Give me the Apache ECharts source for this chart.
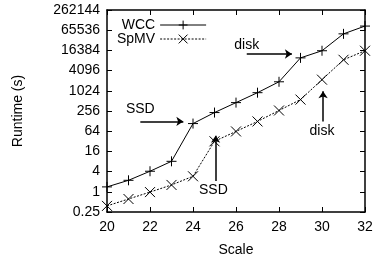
<!DOCTYPE html>
<html lang="en">
	<head>
		<meta charset="UTF-8"/>
		<title></title>
		<script src="https://cdn.jsdelivr.net/npm/echarts@6/dist/echarts.min.js"></script>
		<style>html,body{margin:0;padding:0;background:#fff;}</style>
	</head>
	<body>
		<div id="main" style="width: 378px;height: 262px;"></div>
		<script type="text/javascript">
			// chart data
			var scales = [20, 21, 22, 23, 24, 25, 26, 27, 28, 29, 30, 31, 32];
			var wccRuntime = [1.4, 2.2, 4.1, 8.1, 108, 230, 455, 900, 1900, 9800, 16000, 51000, 87000];
			var spmvRuntime = [0.38, 0.61, 0.98, 1.6, 2.9, 32, 63, 125, 265, 560, 2200, 8600, 16000];
			var yTickLabels = ['0.25', '1', '4', '16', '64', '256', '1024', '4096', '16384', '65536', '262144'];

			// annotations: [text, textX, textY, arrowFrom, arrowTo]
			var notes = [
				['SSD', 21.55, 290, [21.55, 125], [23.55, 125]],
				['SSD', 24.95, 1.12, [25.05, 2.1], [25.05, 47]],
				['disk', 26.5, 24000, [26.5, 12800], [28.6, 12800]],
				['disk', 30.0, 63, [30.05, 125], [30.05, 1000]]
			];

			var font = 'Liberation Sans, Arial, sans-serif';
			var myChart = echarts.init(document.getElementById('main'));

			var pairs = function (ys) {
				return scales.map(function (x, i) { return [x, ys[i]]; });
			};

			var option = {
				animation: false,
				backgroundColor: '#fff',
				textStyle: { fontFamily: font, color: '#000' },
				grid: { left: 107, right: 13, top: 10, bottom: 49 },
				legend: {
					orient: 'vertical',
					left: 112,
					top: 13,
					align: 'right',
					itemWidth: 46,
					itemHeight: 11,
					itemGap: 0,
					lineStyle: { width: 1 },
					itemStyle: { borderWidth: 1 },
					textStyle: { fontFamily: font, fontSize: 14, color: '#000' },
					data: ['WCC', 'SpMV']
				},
				xAxis: [{
					type: 'value',
					min: 20, max: 32, interval: 2,
					name: 'Scale',
					nameLocation: 'middle',
					nameGap: 31,
					nameTextStyle: { fontFamily: font, fontSize: 14, color: '#000' },
					axisLine: { lineStyle: { color: '#000', width: 1.5 } },
					axisTick: { inside: true, length: 5, lineStyle: { color: '#000' } },
					axisLabel: { fontFamily: font, fontSize: 14, color: '#000', margin: 8 },
					splitLine: { show: false }
				}, {
					type: 'value',
					position: 'top',
					min: 20, max: 32, interval: 2,
					axisLine: { lineStyle: { color: '#000', width: 1.5 } },
					axisTick: { inside: true, length: 5, lineStyle: { color: '#000' } },
					axisLabel: { show: false },
					splitLine: { show: false }
				}],
				yAxis: [{
					type: 'log',
					logBase: 2,
					min: 0.25, max: 262144, interval: 2,
					name: 'Runtime (s)',
					nameLocation: 'middle',
					nameGap: 82,
					nameTextStyle: { fontFamily: font, fontSize: 14, color: '#000' },
					axisLine: { show: true, lineStyle: { color: '#000', width: 1.5 } },
					axisTick: { show: true, inside: true, length: 5, lineStyle: { color: '#000' } },
					axisLabel: {
						fontFamily: font, fontSize: 14, color: '#000', margin: 7,
						formatter: function (v) {
							var s = String(+v.toPrecision(6));
							return yTickLabels.indexOf(s) >= 0 ? s : '';
						}
					},
					splitLine: { show: false }
				}, {
					type: 'log',
					logBase: 2,
					position: 'right',
					min: 0.25, max: 262144, interval: 2,
					axisLine: { show: true, lineStyle: { color: '#000', width: 1.5 } },
					axisTick: { show: true, inside: true, length: 5, lineStyle: { color: '#000' } },
					axisLabel: { show: false },
					splitLine: { show: false }
				}],
				series: [{
					name: 'WCC',
					type: 'line',
					data: pairs(wccRuntime),
					symbol: 'path://M5,0L5,10M0,5L10,5',
					symbolSize: 10,
					itemStyle: { color: '#000', borderColor: '#000', borderWidth: 1 },
					lineStyle: { color: '#000', width: 1 },
					markLine: {
						silent: true,
						symbol: ['none', 'arrow'],
						symbolSize: 7,
						label: { show: false },
						lineStyle: { color: '#000', width: 1.5, type: 'solid' },
						data: notes.map(function (n) {
							return [{ coord: n[3] }, { coord: n[4] }];
						})
					},
					markPoint: {
						silent: true,
						symbol: 'circle',
						symbolSize: 0,
						label: {
							show: true, position: 'inside',
							fontFamily: font, fontSize: 14, color: '#000',
							formatter: function (p) { return p.name; }
						},
						data: notes.map(function (n) {
							return { name: n[0], coord: [n[1], n[2]] };
						})
					}
				}, {
					name: 'SpMV',
					type: 'line',
					data: pairs(spmvRuntime),
					symbol: 'path://M0,0L10,10M10,0L0,10',
					symbolSize: 10,
					itemStyle: { color: '#000', borderColor: '#000', borderWidth: 1 },
					lineStyle: { color: '#000', width: 1, type: [2, 1.5] }
				}]
			};

			myChart.setOption(option);
		</script>
	</body>
</html>
